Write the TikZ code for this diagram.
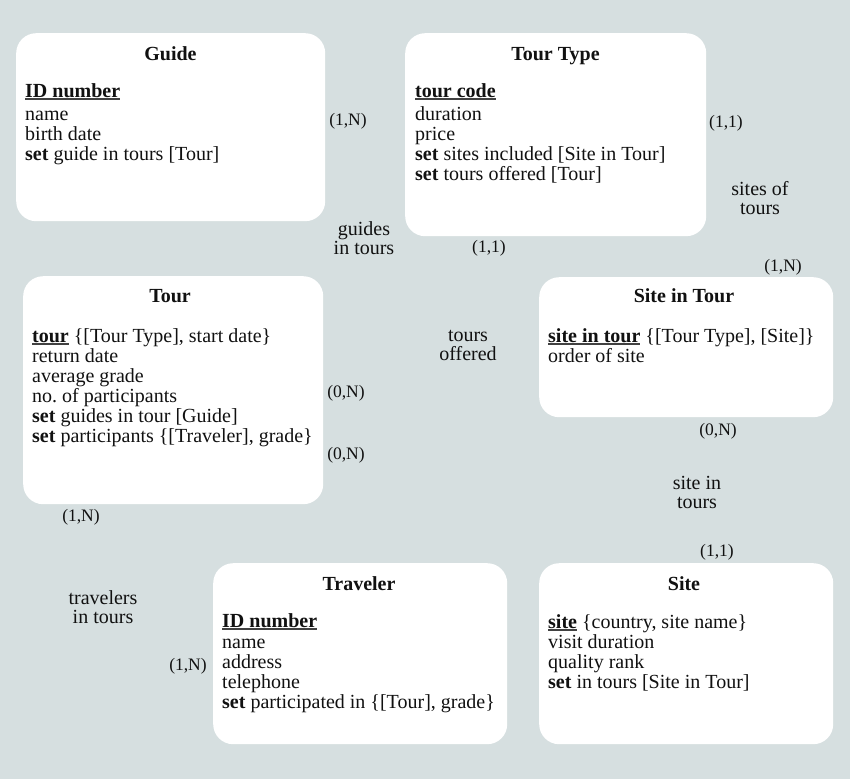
\documentclass[tikz,border=0pt]{standalone}
\usepackage{fontspec}
\setmainfont{Liberation Serif}
\definecolor{bg}{HTML}{D6DFE0}
\definecolor{ink}{HTML}{111111}
\newcommand\myul[1]{\setbox0\hbox{#1}\rlap{\color{ink!80}\rule[-2.6pt]{\wd0}{1.2pt}}\box0\relax}
\begin{document}
\begin{tikzpicture}[x=1pt,y=-1pt,
  box/.style={fill=white,draw=none,rounded corners=20pt,anchor=north west,inner sep=0pt},
  txt/.style={anchor=base west,inner sep=0pt,text=ink,font=\fontsize{20}{20}\selectfont},
  ttl/.style={anchor=base,inner sep=0pt,text=ink,font=\fontsize{20}{20}\selectfont\bfseries},
  card/.style={inner sep=0pt,text=ink,font=\fontsize{17.5}{18}\selectfont},
  rel/.style={inner sep=0pt,align=center,text=ink,font=\fontsize{20}{19}\selectfont}]
\useasboundingbox (0,0) rectangle (850,779);
\fill[bg] (0,0) rectangle (850,779);
% boxes
\node[box,minimum width=309pt,minimum height=188pt] (guide) at (16,33) {};
\node[box,minimum width=301pt,minimum height=203pt] (tourtype) at (405,33) {};
\node[box,minimum width=300pt,minimum height=228pt] (tour) at (23,276) {};
\node[box,minimum width=294pt,minimum height=140pt] (siteintour) at (539,277) {};
\node[box,minimum width=294pt,minimum height=181pt] (traveler) at (213,563) {};
\node[box,minimum width=294pt,minimum height=181pt] (site) at (539,563) {};
% Guide
\node[ttl] (g0) at (170.5,60) {Guide};
\node[txt] (g1) at (25,97) {\myul{\textbf{ID number}}};
\node[txt] (g2) at (25,120) {name};
\node[txt] (g3) at (25,140) {birth date};
\node[txt] (g4) at (25,160) {\textbf{set} guide in tours [Tour]};
% Tour Type
\node[ttl] (tt0) at (555.5,60) {Tour Type};
\node[txt] (tt1) at (415,97) {\myul{\textbf{tour code}}};
\node[txt] (tt2) at (415,120) {duration};
\node[txt] (tt3) at (415,140) {price};
\node[txt] (tt4) at (415,160) {\textbf{set} sites included [Site in Tour]};
\node[txt] (tt5) at (415,180) {\textbf{set} tours offered [Tour]};
% Tour
\node[ttl] (t0) at (170,302) {Tour};
\node[txt] (t1) at (32,342) {\myul{\textbf{tour}} \{[Tour Type], start date\}};
\node[txt] (t2) at (32,362) {return date};
\node[txt] (t3) at (32,382) {average grade};
\node[txt] (t4) at (32,402) {no.\ of participants};
\node[txt] (t5) at (32,422) {\textbf{set} guides in tour [Guide]};
\node[txt] (t6) at (32,442) {\textbf{set} participants \{[Traveler], grade\}};
% Site in Tour
\node[ttl] (s0) at (684,302) {Site in Tour};
\node[txt] (s1) at (548,342) {\myul{\textbf{site in tour}} \{[Tour Type], [Site]\}};
\node[txt] (s2) at (548,362) {order of site};
% Traveler
\node[ttl] (tr0) at (359,590) {Traveler};
\node[txt] (tr1) at (222,627) {\myul{\textbf{ID number}}};
\node[txt] (tr2) at (222,648) {name};
\node[txt] (tr3) at (222,668) {address};
\node[txt] (tr4) at (222,688) {telephone};
\node[txt] (tr5) at (222,708) {\textbf{set} participated in \{[Tour], grade\}};
% Site
\node[ttl] (si0) at (684,590) {Site};
\node[txt] (si1) at (548,628) {\myul{\textbf{site}} \{country, site name\}};
\node[txt] (si2) at (548,648) {visit duration};
\node[txt] (si3) at (548,668) {quality rank};
\node[txt] (si4) at (548,688) {\textbf{set} in tours [Site in Tour]};
% cardinalities
\node[card] (c1) at (348,121) {(1,N)};
\node[card] (c2) at (489,248) {(1,1)};
\node[card] (c3) at (726,123) {(1,1)};
\node[card] (c4) at (783,267) {(1,N)};
\node[card] (c5) at (346,393) {(0,N)};
\node[card] (c6) at (346,455) {(0,N)};
\node[card] (c7) at (718,431) {(0,N)};
\node[card] (c8) at (81,517) {(1,N)};
\node[card] (c9) at (717,552) {(1,1)};
\node[card] (c10) at (188,666) {(1,N)};
% relationships
\node[rel] (r1) at (364,238) {guides\\in tours};
\node[rel] (r2) at (760,198) {sites of\\tours};
\node[rel] (r3) at (468,345) {tours\\offered};
\node[rel] (r4) at (697,492) {site in\\tours};
\node[rel] (r5) at (103,607) {travelers\\in tours};
\end{tikzpicture}
\end{document}
